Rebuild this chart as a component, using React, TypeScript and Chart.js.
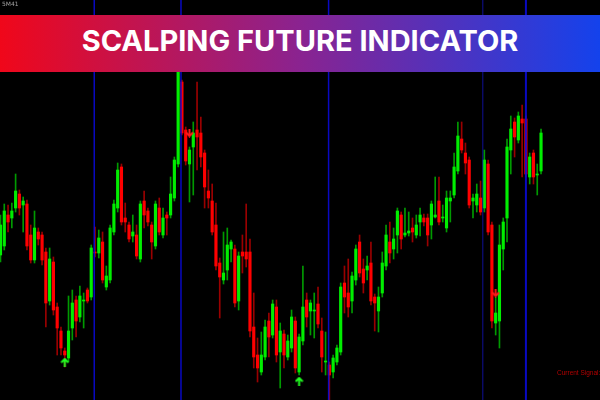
import React, { useEffect, useRef } from "react";
import { Chart, registerables } from "chart.js";

Chart.register(...registerables);

// ---- data (price units, one entry per candle) ----
const candleOpen = [
  145, 154, 185, 182, 192, 206, 195, 196, 165, 140, 168, 165, 148, 99, 138, 93, 69, 49, 42, 72,
  100, 83, 99, 110, 103, 148, 147, 158, 113, 120, 168, 192, 233, 182, 175, 164, 165, 141, 199, 189,
  175, 154, 192, 165, 185, 185, 202, 236, 318, 270, 236, 253, 270, 267, 247, 209, 199, 175, 137, 120,
  130, 151, 151, 99, 148, 148, 148, 73, 45, 28, 43, 79, 65, 93, 48, 66, 43, 52, 79, 28,
  59, 100, 89, 89, 96, 69, 38, 35, 28, 38, 48, 117, 107, 99, 120, 158, 131, 130, 137, 103,
  89, 107, 134, 158, 151, 165, 185, 165, 167, 172, 165, 178, 182, 182, 175, 183, 199, 182, 172, 199,
  205, 229, 261, 247, 240, 199, 195, 202, 192, 236, 175, 77, 79, 151, 182, 250, 278, 260, 281, 281,
  223, 247, 225, 229,
];
const candleHigh = [
  185, 196, 195, 197, 226, 210, 203, 200, 175, 189, 172, 168, 152, 152, 143, 97, 73, 52, 104, 110,
  104, 114, 107, 112, 155, 173, 170, 168, 134, 175, 200, 237, 236, 197, 178, 185, 175, 199, 209, 192,
  178, 199, 202, 192, 188, 223, 243, 345, 320, 273, 253, 278, 318, 283, 250, 230, 216, 197, 142, 168,
  172, 160, 155, 148, 165, 196, 161, 107, 62, 68, 80, 87, 100, 100, 77, 70, 65, 90, 83, 66,
  134, 107, 100, 107, 113, 82, 68, 38, 45, 55, 117, 134, 141, 128, 155, 165, 141, 144, 158, 106,
  113, 148, 175, 178, 172, 192, 188, 192, 188, 182, 185, 192, 186, 186, 199, 223, 223, 195, 209, 209,
  247, 278, 278, 257, 243, 206, 216, 219, 250, 240, 178, 103, 175, 182, 261, 284, 282, 288, 295, 284,
  247, 250, 236, 271,
];
const candleLow = [
  138, 150, 168, 172, 188, 185, 168, 150, 137, 137, 155, 135, 73, 95, 85, 45, 45, 33, 38, 60,
  63, 78, 72, 97, 100, 143, 142, 117, 110, 117, 165, 188, 175, 168, 158, 158, 141, 138, 172, 174,
  141, 151, 165, 162, 165, 182, 199, 233, 265, 235, 198, 205, 230, 233, 192, 192, 165, 130, 82, 116,
  120, 138, 93, 90, 127, 133, 63, 32, 18, 25, 40, 43, 62, 38, 12, 32, 40, 48, 27, 25,
  55, 73, 65, 62, 72, 28, 25, 0, 22, 35, 45, 87, 83, 87, 115, 123, 107, 120, 95, 69,
  68, 103, 130, 137, 141, 147, 151, 163, 164, 158, 162, 164, 174, 154, 161, 182, 175, 178, 168, 178,
  202, 226, 247, 226, 192, 182, 188, 185, 188, 165, 72, 65, 52, 130, 158, 226, 243, 257, 223, 223,
  216, 216, 205, 226,
];
const candleClose = [
  175, 189, 178, 189, 209, 192, 199, 154, 140, 172, 161, 140, 97, 141, 90, 72, 52, 45, 69, 97,
  79, 104, 100, 99, 152, 147, 162, 120, 124, 172, 196, 230, 178, 178, 161, 168, 144, 196, 185, 178,
  158, 196, 168, 182, 182, 206, 240, 338, 267, 239, 250, 267, 263, 243, 213, 202, 168, 134, 123, 127,
  155, 158, 97, 144, 144, 141, 69, 43, 32, 45, 73, 63, 96, 45, 69, 45, 59, 83, 32, 63,
  93, 83, 97, 90, 76, 43, 39, 25, 42, 52, 113, 103, 93, 124, 151, 127, 117, 134, 99, 97,
  103, 137, 165, 147, 161, 189, 161, 167, 169, 168, 175, 185, 178, 165, 196, 185, 178, 183, 202, 202,
  233, 264, 250, 237, 195, 202, 206, 188, 240, 168, 79, 87, 155, 178, 253, 271, 263, 284, 277, 226,
  243, 223, 226, 267,
];

// separator positions (candle index) and widths
const separatorIndex = [24.8, 47.75, 86.8, 127.6, 139];
const separatorWidth = [1.5, 1.5, 1.5, 1, 2];

// signal arrows (candle index, price)
const buyArrowIndex = [17, 79];
const buyArrowPrice = [38, 19];
const sellArrowIndex = [50, 131];
const sellArrowPrice = [267, 107];

const titleText = "SCALPING FUTURE INDICATOR";
const signalText = "Current Signal: SELL";
const symbolText = "5M41";

const PRICE_MIN = 0;
const PRICE_MAX = 400;

function makeArrow(color: string, up: boolean): HTMLCanvasElement {
  const c = document.createElement("canvas");
  c.width = 9;
  c.height = 9;
  const g = c.getContext("2d")!;
  g.strokeStyle = color;
  g.lineWidth = 2;
  g.beginPath();
  if (up) {
    g.moveTo(1, 5);
    g.lineTo(4.5, 1.5);
    g.lineTo(8, 5);
    g.moveTo(4.5, 1.5);
    g.lineTo(4.5, 9);
  } else {
    g.moveTo(1, 4);
    g.lineTo(4.5, 7.5);
    g.lineTo(8, 4);
    g.moveTo(4.5, 7.5);
    g.lineTo(4.5, 0);
  }
  g.stroke();
  return c;
}

export default function App() {
  const ref = useRef<HTMLCanvasElement | null>(null);

  useEffect(() => {
    if (!ref.current) return;
    const idx = candleOpen.map((_, i) => i);
    const up = idx.map((i) => candleClose[i] >= candleOpen[i]);

    const separatorSets = separatorIndex.map((x, k) => ({
      type: "line" as const,
      data: [
        { x, y: PRICE_MIN },
        { x, y: PRICE_MAX },
      ],
      borderColor: k === 3 ? "rgba(20,20,200,0.75)" : "rgba(10,10,215,0.9)",
      borderWidth: separatorWidth[k],
      pointRadius: 0,
      clip: false,
      order: 0,
    }));

    const chart = new Chart(ref.current, {
      type: "bar",
      data: {
        datasets: [
          ...separatorSets,
          {
            type: "scatter" as const,
            data: buyArrowIndex.map((x, k) => ({ x, y: buyArrowPrice[k] })),
            pointStyle: makeArrow("#22ff22", true),
            pointRadius: 4,
            order: 1,
          },
          {
            type: "scatter" as const,
            data: sellArrowIndex.map((x, k) => ({ x, y: sellArrowPrice[k] })),
            pointStyle: makeArrow("#ff1a1a", false),
            pointRadius: 4,
            order: 1,
          },
          {
            type: "bar" as const,
            data: idx.map((i) => ({ x: i, y: [candleOpen[i], candleClose[i]] })),
            backgroundColor: up.map((u) => (u ? "#00ee00" : "#ff0000")),
            barThickness: 2.5,
            grouped: false,
            borderWidth: 0,
            order: 2,
          },
          {
            type: "bar" as const,
            data: idx.map((i) => ({ x: i, y: [candleLow[i], candleHigh[i]] })),
            backgroundColor: up.map((u) => (u ? "#009a00" : "#9a0000")),
            barThickness: 1,
            grouped: false,
            borderWidth: 0,
            order: 3,
          },
        ] as any,
      },
      options: {
        animation: false,
        responsive: false,
        maintainAspectRatio: false,
        layout: { padding: 0, autoPadding: false },
        plugins: { legend: { display: false }, tooltip: { enabled: false }, title: { display: false } },
        scales: {
          x: { type: "linear", min: -0.13, max: 158.6, display: false, offset: false, grid: { display: false } },
          y: { type: "linear", min: PRICE_MIN, max: PRICE_MAX, display: false, grid: { display: false } },
        },
      },
    });
    return () => chart.destroy();
  }, []);

  return (
    <div
      style={{
        position: "fixed",
        left: 0,
        top: 0,
        width: 600,
        height: 400,
        background: "#000",
        overflow: "hidden",
      }}
    >
      <canvas ref={ref} width={600} height={400} style={{ position: "absolute", left: 0, top: 0, width: 600, height: 400 }} />
      <div
        style={{
          position: "absolute",
          left: 2,
          top: 0,
          color: "#a0a0a0",
          font: '6px "DejaVu Sans", sans-serif',
          lineHeight: "7px",
        }}
      >
        {symbolText}
      </div>
      <div
        style={{
          position: "absolute",
          left: 0,
          top: 15,
          width: 600,
          height: 57,
          background: "linear-gradient(90deg, #f0071a 0%, #8a2390 50%, #1442ec 100%)",
        }}
      >
        <div
          style={{
            position: "absolute",
            left: 0,
            top: 11,
            width: 600,
            textAlign: "center",
            color: "#ffffff",
            font: '700 29px Inter, "Noto Sans", sans-serif',
            lineHeight: "29px",
            whiteSpace: "nowrap",
          }}
        >
          {titleText}
        </div>
      </div>
      <div
        style={{
          position: "absolute",
          left: 557,
          top: 369,
          color: "#b40000",
          font: '6.5px "Liberation Sans", Arial, sans-serif',
          lineHeight: "8px",
          whiteSpace: "nowrap",
        }}
      >
        {signalText}
      </div>
    </div>
  );
}
